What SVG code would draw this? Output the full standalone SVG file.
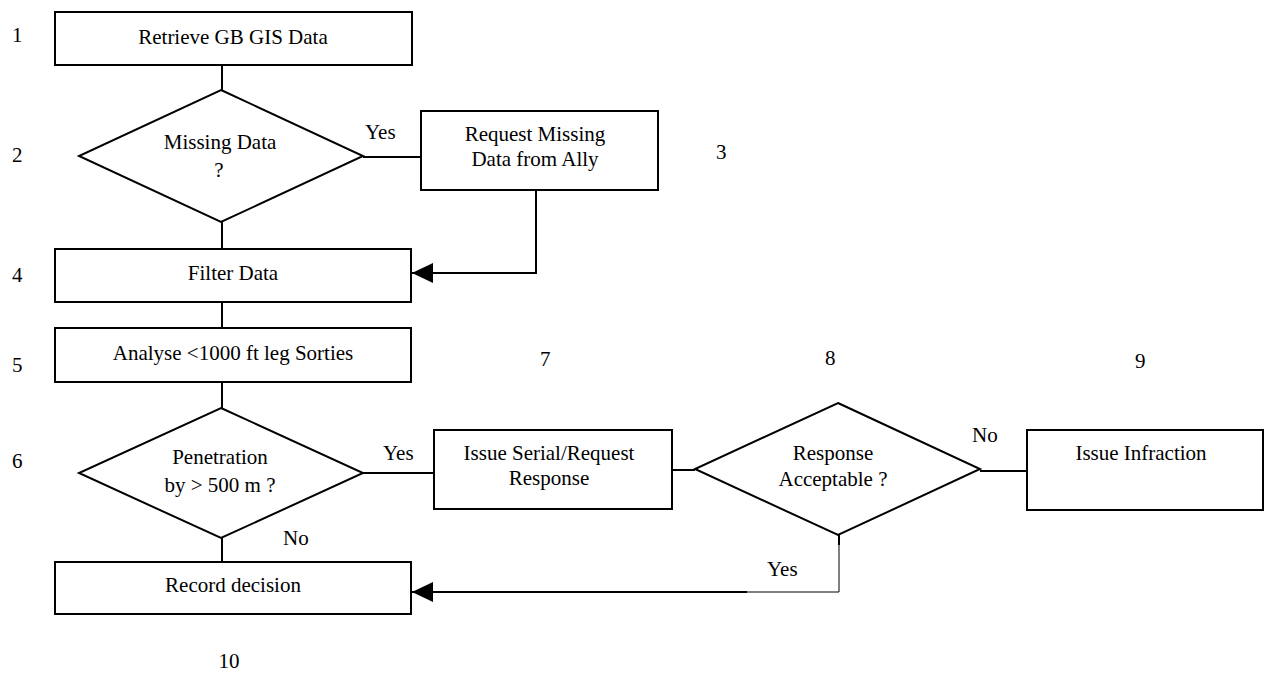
<svg xmlns="http://www.w3.org/2000/svg" width="1265" height="673" viewBox="0 0 1265 673">
<style>
.box{fill:#fff;stroke:#000;stroke-width:2}
.ln{fill:none;stroke:#000;stroke-width:2}
.thin{fill:none;stroke:#000;stroke-width:1}
text{font-family:'Liberation Serif','Times New Roman','DejaVu Serif',serif;font-size:21px;fill:#000}
.c{text-anchor:middle}
</style>
<defs>
<marker id="arr" markerWidth="21" markerHeight="20" refX="21" refY="10" orient="auto" markerUnits="userSpaceOnUse">
<path d="M0,0 L21,10 L0,20 Z" fill="#000"/>
</marker>
</defs>
<g font-family="Liberation Serif, Times New Roman, serif" font-size="21">
<g id="connectors">
<line class="ln" x1="222" y1="65" x2="222" y2="90"/>
<line class="ln" x1="363" y1="157" x2="421" y2="157"/>
<line class="ln" x1="222" y1="222" x2="222" y2="249"/>
<polyline class="ln" points="536,190 536,273 412,273" marker-end="url(#arr)"/>
<line class="ln" x1="222" y1="302" x2="222" y2="328"/>
<line class="ln" x1="222" y1="382" x2="222" y2="408"/>
<line class="ln" x1="363" y1="473" x2="434" y2="473"/>
<line class="ln" x1="222" y1="538" x2="222" y2="562"/>
<line class="ln" x1="672" y1="470" x2="695" y2="470"/>
<line class="ln" x1="980" y1="471" x2="1027" y2="471"/>
<line class="ln" x1="839" y1="535" x2="839" y2="545"/>
<polyline class="thin" points="839,545 839,592 747,592"/>
<line class="ln" x1="747" y1="592" x2="412" y2="592" marker-end="url(#arr)"/>
<text x="365" y="139">Yes</text>
<text x="383" y="460">Yes</text>
<text x="283" y="545">No</text>
<text x="972" y="442">No</text>
<text x="767" y="576">Yes</text>
</g>
<g id="n1"><rect class="box" x="55" y="12" width="357" height="53"/><text class="c" x="233" y="44">Retrieve GB GIS Data</text></g>
<g id="n2"><polygon class="box" points="221,90 363,156 221,222 79,156"/><text class="c" x="220" y="149">Missing Data</text><text class="c" x="219" y="177">?</text></g>
<g id="n3"><rect class="box" x="421" y="111" width="237" height="79"/><text class="c" x="535" y="141">Request Missing</text><text class="c" x="535" y="166">Data from Ally</text></g>
<g id="n4"><rect class="box" x="55" y="249" width="356" height="53"/><text class="c" x="233" y="280">Filter Data</text></g>
<g id="n5"><rect class="box" x="55" y="328" width="356" height="54"/><text class="c" x="233" y="360">Analyse &lt;1000 ft leg Sorties</text></g>
<g id="n6"><polygon class="box" points="221,408 363,473 221,538 79,473"/><text class="c" x="220" y="464">Penetration</text><text class="c" x="220" y="492">by &gt; 500 m ?</text></g>
<g id="n7"><rect class="box" x="434" y="430" width="238" height="79"/><text class="c" x="549" y="460">Issue Serial/Request</text><text class="c" x="549" y="485">Response</text></g>
<g id="n8"><polygon class="box" points="838,403 980,469 838,535 695,469"/><text class="c" x="833" y="460">Response</text><text class="c" x="833" y="486">Acceptable ?</text></g>
<g id="n9"><rect class="box" x="1027" y="430" width="236" height="80"/><text class="c" x="1141" y="460">Issue Infraction</text></g>
<g id="n10"><rect class="box" x="55" y="562" width="356" height="52"/><text class="c" x="233" y="592">Record decision</text></g>
<g id="labels">
<text x="12" y="42">1</text>
<text x="12" y="162">2</text>
<text x="716" y="159">3</text>
<text x="12" y="282">4</text>
<text x="12" y="372">5</text>
<text x="12" y="468">6</text>
<text x="540" y="366">7</text>
<text x="825" y="365">8</text>
<text x="1135" y="368">9</text>
<text class="c" x="229" y="668">10</text>
</g>
</g>
</svg>
